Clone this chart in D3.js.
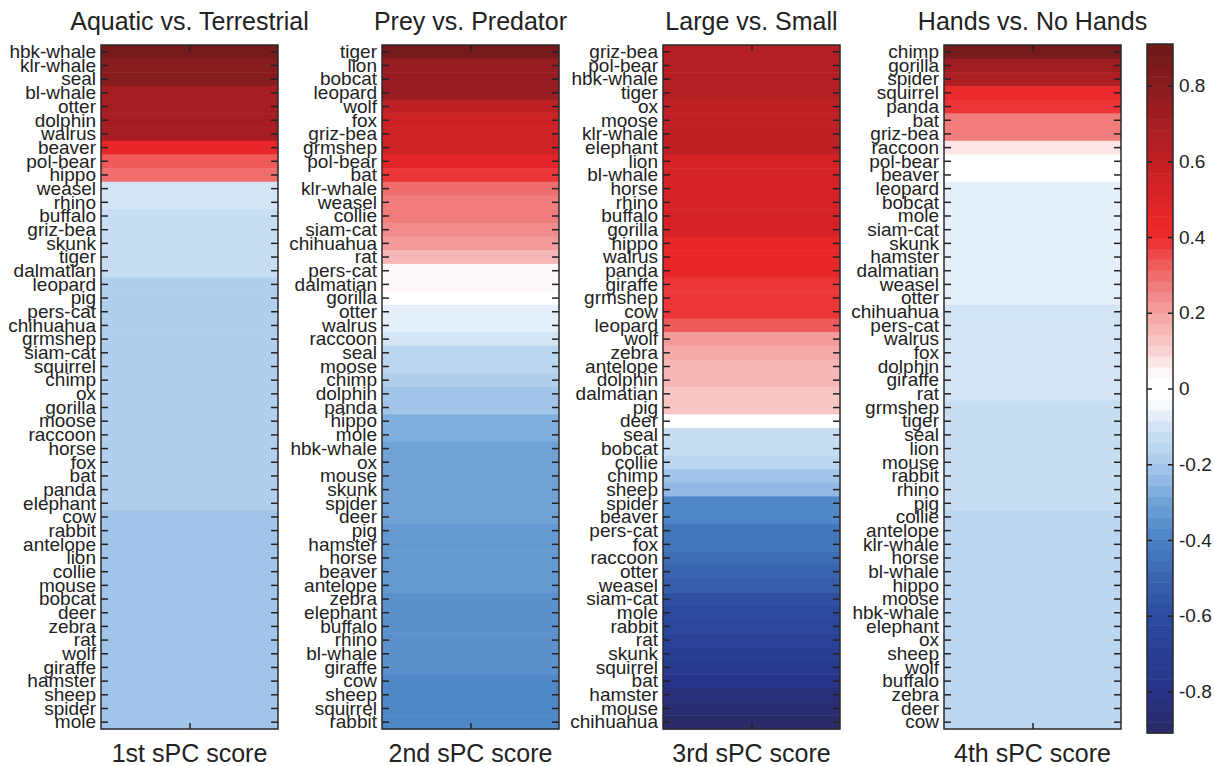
<!DOCTYPE html>
<html>
<head>
<meta charset="utf-8">
<script src="https://cdn.jsdelivr.net/npm/d3@7"></script>
<style>
  html, body { margin: 0; padding: 0; background: #fff; }
  svg { display: block; font-family: "Liberation Sans", Arial, sans-serif; }
</style>
</head>
<body>
<svg id="chart" width="1214" height="766"></svg>
<script>
// ---- data ----
const titles = ["Aquatic vs. Terrestrial", "Prey vs. Predator", "Large vs. Small", "Hands vs. No Hands"];
const xLabels = ["1st sPC score", "2nd sPC score", "3rd sPC score", "4th sPC score"];

const names1 = ["hbk-whale","klr-whale","seal","bl-whale","otter","dolphin","walrus","beaver","pol-bear","hippo",
  "weasel","rhino","buffalo","griz-bea","skunk","tiger","dalmatian","leopard","pig","pers-cat",
  "chihuahua","grmshep","siam-cat","squirrel","chimp","ox","gorilla","moose","raccoon","horse",
  "fox","bat","panda","elephant","cow","rabbit","antelope","lion","collie","mouse",
  "bobcat","deer","zebra","rat","wolf","giraffe","hamster","sheep","spider","mole"];
const values1 = [0.87,0.80,0.80,0.70,0.70,0.70,0.70,0.45,0.34,0.29,
  -0.10,-0.10,-0.14,-0.14,-0.14,-0.14,-0.14,-0.18,-0.18,-0.18,
  -0.18,-0.18,-0.18,-0.18,-0.18,-0.18,-0.18,-0.18,-0.18,-0.18,
  -0.18,-0.18,-0.18,-0.18,-0.22,-0.22,-0.22,-0.22,-0.22,-0.22,
  -0.22,-0.22,-0.22,-0.22,-0.22,-0.22,-0.22,-0.22,-0.22,-0.22];

const names2 = ["tiger","lion","bobcat","leopard","wolf","fox","griz-bea","grmshep","pol-bear","bat",
  "klr-whale","weasel","collie","siam-cat","chihuahua","rat","pers-cat","dalmatian","gorilla","otter",
  "walrus","raccoon","seal","moose","chimp","dolphin","panda","hippo","mole","hbk-whale",
  "ox","mouse","skunk","spider","deer","pig","hamster","horse","beaver","antelope",
  "zebra","elephant","buffalo","rhino","bl-whale","giraffe","cow","sheep","squirrel","rabbit"];
const values2 = [0.86,0.74,0.74,0.74,0.60,0.55,0.55,0.55,0.47,0.38,
  0.30,0.26,0.26,0.23,0.20,0.15,0.05,0.05,0.00,-0.06,
  -0.06,-0.09,-0.16,-0.16,-0.19,-0.22,-0.22,-0.28,-0.28,-0.30,
  -0.30,-0.30,-0.30,-0.30,-0.30,-0.33,-0.33,-0.33,-0.33,-0.33,
  -0.36,-0.36,-0.36,-0.36,-0.36,-0.36,-0.38,-0.38,-0.38,-0.38];

const names3 = ["griz-bea","pol-bear","hbk-whale","tiger","ox","moose","klr-whale","elephant","lion","bl-whale",
  "horse","rhino","buffalo","gorilla","hippo","walrus","panda","giraffe","grmshep","cow",
  "leopard","wolf","zebra","antelope","dolphin","dalmatian","pig","deer","seal","bobcat",
  "collie","chimp","sheep","spider","beaver","pers-cat","fox","raccoon","otter","weasel",
  "siam-cat","mole","rabbit","rat","skunk","squirrel","bat","hamster","mouse","chihuahua"];
const values3 = [0.64,0.63,0.63,0.63,0.62,0.62,0.61,0.60,0.53,0.53,
  0.53,0.53,0.53,0.53,0.45,0.45,0.43,0.39,0.39,0.39,
  0.33,0.22,0.18,0.16,0.16,0.13,0.13,0.00,-0.14,-0.14,
  -0.17,-0.20,-0.23,-0.37,-0.39,-0.43,-0.45,-0.48,-0.50,-0.54,
  -0.59,-0.62,-0.64,-0.68,-0.70,-0.73,-0.77,-0.84,-0.88,-0.90];

const names4 = ["chimp","gorilla","spider","squirrel","panda","bat","griz-bea","raccoon","pol-bear","beaver",
  "leopard","bobcat","mole","siam-cat","skunk","hamster","dalmatian","weasel","otter","chihuahua",
  "pers-cat","walrus","fox","dolphin","giraffe","rat","grmshep","tiger","seal","lion",
  "mouse","rabbit","rhino","pig","collie","antelope","klr-whale","horse","bl-whale","hippo",
  "moose","hbk-whale","elephant","ox","sheep","wolf","buffalo","zebra","deer","cow"];
const values4 = [0.86,0.72,0.67,0.40,0.37,0.27,0.27,0.08,0.00,0.00,
  -0.06,-0.06,-0.06,-0.06,-0.06,-0.06,-0.06,-0.06,-0.06,-0.09,
  -0.09,-0.09,-0.09,-0.09,-0.09,-0.09,-0.12,-0.12,-0.12,-0.12,
  -0.12,-0.12,-0.12,-0.12,-0.15,-0.15,-0.15,-0.15,-0.15,-0.15,
  -0.15,-0.15,-0.15,-0.15,-0.15,-0.15,-0.15,-0.15,-0.15,-0.15];

const colorbarTicks = [0.8, 0.6, 0.4, 0.2, 0, -0.2, -0.4, -0.6, -0.8];
const colorLimits = [-0.91, 0.91];
const colorStopValues = [0.91, 0.8, 0.6, 0.45, 0.4, 0.3, 0.2, 0.1, 0.03, -0.03, -0.06, -0.1, -0.2, -0.3, -0.4, -0.5, -0.6, -0.7, -0.8, -0.91];
const colorStopHex = ["#6a1919","#8a1c1e","#c02025","#e82528","#ec2c2e","#f06c6c","#f4a2a2","#f9d3d3","#ffffff","#ffffff","#eaf3fb","#d3e5f5","#a9cbec","#6fa1d6","#4a82c3","#3a63ad","#2d4c9e","#283e93","#283285","#2b2a66"];
const nLevels = 64;

// ---- layout ----
const svg = d3.select("#chart");
const plotTop = 45, plotBottom = 729;
const panelLeft0 = 101, panelStep = 281, panelW = 177;
const cbLeft = 1147, cbW = 26, cbTop = 44, cbBottom = 733;
const textColor = "#222";

const baseColor = d3.scaleLinear().domain(colorStopValues).range(colorStopHex).interpolate(d3.interpolateRgb).clamp(true);
const levelScale = d3.scaleQuantize().domain(colorLimits).range(d3.range(nLevels));
function levelValue(i) {
  return colorLimits[0] + (i + 0.5) * (colorLimits[1] - colorLimits[0]) / nLevels;
}
function colorOf(v) { return baseColor(levelValue(levelScale(v))); }

const panels = [
  {names: names1, values: values1},
  {names: names2, values: values2},
  {names: names3, values: values3},
  {names: names4, values: values4}
];

panels.forEach((p, i) => {
  const x0 = panelLeft0 + i * panelStep;
  const g = svg.append("g");
  const y = d3.scaleBand().domain(p.names).range([plotTop, plotBottom]);
  const x = d3.scaleLinear().domain([0, 1]).range([x0, x0 + panelW]);
  const rows = p.names.map((n, k) => ({name: n, value: p.values[k]}));

  g.selectAll("rect.cell").data(rows).enter().append("rect")
    .attr("class", "cell")
    .attr("x", x(0)).attr("width", x(1) - x(0))
    .attr("y", d => y(d.name)).attr("height", y.bandwidth() + 0.5)
    .attr("fill", d => colorOf(d.value));

  // left axis with labels
  const la = g.append("g").attr("transform", `translate(${x(0)},0)`)
    .call(d3.axisLeft(y).tickSize(-7).tickPadding(5));
  la.select(".domain").remove();
  la.selectAll("line").attr("stroke", textColor).attr("stroke-width", 1.5);
  la.selectAll("text").attr("font-size", 19).attr("fill", textColor)
    .attr("font-family", "Liberation Sans, Arial, sans-serif").attr("dy", "0.33em");

  const ra = g.append("g").attr("transform", `translate(${x(1)},0)`)
    .call(d3.axisRight(y).tickSize(-7).tickFormat(""));
  ra.select(".domain").remove();
  ra.selectAll("line").attr("stroke", textColor).attr("stroke-width", 1.5);

  const ba = g.append("g").attr("transform", `translate(0,${plotBottom})`)
    .call(d3.axisBottom(x).tickValues([0.5]).tickSize(-6).tickFormat(""));
  ba.select(".domain").remove();
  ba.selectAll("line").attr("stroke", textColor).attr("stroke-width", 1.5);
  const ta = g.append("g").attr("transform", `translate(0,${plotTop})`)
    .call(d3.axisTop(x).tickValues([0.5]).tickSize(-6).tickFormat(""));
  ta.select(".domain").remove();
  ta.selectAll("line").attr("stroke", textColor).attr("stroke-width", 1.5);

  g.append("rect").attr("x", x(0)).attr("y", plotTop).attr("width", x(1) - x(0)).attr("height", plotBottom - plotTop)
    .attr("fill", "none").attr("stroke", "#2a2a2a").attr("stroke-width", 1.5);

  g.append("text").attr("x", (x(0) + x(1)) / 2).attr("y", 30).attr("text-anchor", "middle")
    .attr("font-size", 25).attr("fill", textColor).text(titles[i]);
  g.append("text").attr("x", (x(0) + x(1)) / 2).attr("y", 762).attr("text-anchor", "middle")
    .attr("font-size", 25).attr("fill", textColor).text(xLabels[i]);
});

// ---- colorbar ----
const cy = d3.scaleLinear().domain(colorLimits).range([cbBottom, cbTop]);
const cg = svg.append("g");
const levels = d3.range(nLevels);
const step = (colorLimits[1] - colorLimits[0]) / nLevels;
cg.selectAll("rect.lvl").data(levels).enter().append("rect")
  .attr("class", "lvl")
  .attr("x", cbLeft).attr("width", cbW)
  .attr("y", d => cy(colorLimits[0] + (d + 1) * step))
  .attr("height", d => cy(colorLimits[0] + d * step) - cy(colorLimits[0] + (d + 1) * step) + 0.5)
  .attr("fill", d => baseColor(levelValue(d)));

const cr = cg.append("g").attr("transform", `translate(${cbLeft + cbW},0)`)
  .call(d3.axisRight(cy).tickValues(colorbarTicks).tickSize(-5).tickPadding(6).tickFormat(d => String(d)));
cr.select(".domain").remove();
cr.selectAll("line").attr("stroke", textColor).attr("stroke-width", 1.5);
cr.selectAll("text").attr("font-size", 19).attr("fill", textColor)
  .attr("font-family", "Liberation Sans, Arial, sans-serif");
const cl = cg.append("g").attr("transform", `translate(${cbLeft},0)`)
  .call(d3.axisLeft(cy).tickValues(colorbarTicks).tickSize(-5).tickFormat(""));
cl.select(".domain").remove();
cl.selectAll("line").attr("stroke", textColor).attr("stroke-width", 1.5);
cg.append("rect").attr("x", cbLeft).attr("y", cbTop).attr("width", cbW).attr("height", cbBottom - cbTop)
  .attr("fill", "none").attr("stroke", "#2a2a2a").attr("stroke-width", 1.5);
</script>
</body>
</html>
